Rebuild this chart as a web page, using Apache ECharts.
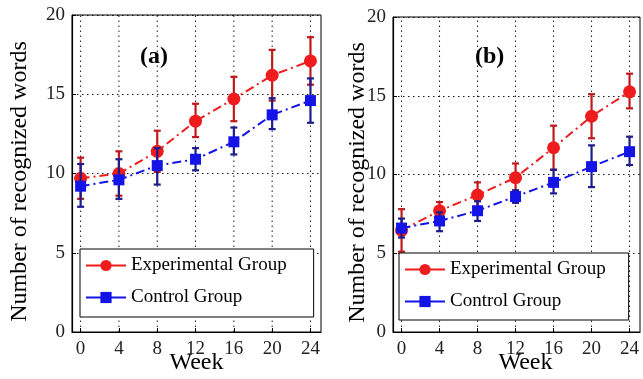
<!DOCTYPE html>
<html>
<head>
<meta charset="utf-8">
<script src="https://cdn.jsdelivr.net/npm/echarts@6/dist/echarts.min.js"></script>
<style>html,body{margin:0;padding:0;background:#fff}#c{width:643px;height:379px}</style>
</head>
<body>
<div id="c"></div>
<script>
// ---- data ----
const weeks = [0, 4, 8, 12, 16, 20, 24];
const xTicks = [0, 4, 8, 12, 16, 20, 24];
const panelLabels = ['(a)', '(b)'];
const seriesNames = ['Experimental Group', 'Control Group'];

// Panel (a)
const expA_mean  = [9.7, 10.0, 11.4, 13.3, 14.7, 16.2, 17.1];
const expA_upper = [11.0, 11.4, 12.7, 14.4, 16.1, 17.8, 18.6];
const expA_lower = [8.4, 8.6, 10.1, 12.3, 13.3, 14.6, 15.6];
const ctrlA_mean  = [9.2, 9.6, 10.5, 10.9, 12.0, 13.7, 14.6];
const ctrlA_upper = [10.6, 10.9, 11.6, 11.6, 12.9, 14.75, 16.0];
const ctrlA_lower = [7.9, 8.4, 9.3, 10.2, 11.2, 12.8, 13.2];

// Panel (b)
const expB_mean  = [6.45, 7.7, 8.7, 9.8, 11.7, 13.7, 15.25];
const expB_upper = [7.8, 8.25, 9.5, 10.7, 13.1, 15.1, 16.4];
const expB_lower = [5.1, 7.1, 7.9, 8.9, 10.3, 12.3, 14.2];
const ctrlB_mean  = [6.6, 7.05, 7.7, 8.6, 9.5, 10.5, 11.45];
const ctrlB_upper = [7.2, 7.6, 8.3, 9.0, 10.3, 11.85, 12.4];
const ctrlB_lower = [6.0, 6.4, 7.05, 8.2, 8.8, 9.2, 10.6];

// ---- styling ----
const FONT = 'Liberation Serif';
const RED = '#ee1c1c', RED_BAR = '#c0191c';
const BLUE = '#1414e6', BLUE_BAR = '#1c1c8c';
const DOT = [1.5, 3.5];

const grids = [
  { left: 72, top: 15, width: 249, height: 317 },
  { left: 393, top: 17, width: 247, height: 315 }
];
const yNameGaps = [40, 23];

function pairs(xs, ys) { return xs.map((x, i) => [x, ys[i]]); }
function barData(xs, lo, hi) { return xs.map((x, i) => [x, lo[i], hi[i]]); }

function gridLineSeries(idx) {
  return {
    type: 'custom', xAxisIndex: idx, yAxisIndex: idx, z: 1, silent: true,
    data: xTicks.map(v => [v]),
    renderItem: function (params, api) {
      const x = api.value(0);
      const a = api.coord([x, 0]);
      const b = api.coord([x, 20]);
      return { type: 'line', shape: { x1: a[0], y1: a[1], x2: b[0], y2: b[1] },
               style: { stroke: '#000', lineWidth: 1, lineDash: DOT, opacity: 0.9 } };
    }
  };
}

function errorSeries(idx, data, color, z) {
  return {
    type: 'custom', xAxisIndex: idx, yAxisIndex: idx, z: z, silent: true,
    data: data,
    renderItem: function (params, api) {
      const x = api.value(0);
      const lo = api.coord([x, api.value(1)]);
      const hi = api.coord([x, api.value(2)]);
      const cap = 3.5;
      const st = { stroke: color, lineWidth: 2.2 };
      return {
        type: 'group',
        children: [
          { type: 'line', shape: { x1: lo[0], y1: lo[1], x2: hi[0], y2: hi[1] }, style: st },
          { type: 'line', shape: { x1: hi[0] - cap, y1: hi[1], x2: hi[0] + cap, y2: hi[1] }, style: st },
          { type: 'line', shape: { x1: lo[0] - cap, y1: lo[1], x2: lo[0] + cap, y2: lo[1] }, style: st }
        ]
      };
    }
  };
}

function lineSeries(idx, name, data, color, symbol, size, z) {
  return {
    type: 'line', name: name, xAxisIndex: idx, yAxisIndex: idx, z: z,
    data: data, symbol: symbol, symbolSize: size, showSymbol: true,
    itemStyle: { color: color, borderWidth: 0 },
    lineStyle: { color: color, width: 2, type: [9, 4, 2, 4] },
    silent: true
  };
}

const panels = [
  { exp: [expA_mean, expA_lower, expA_upper], ctrl: [ctrlA_mean, ctrlA_lower, ctrlA_upper] },
  { exp: [expB_mean, expB_lower, expB_upper], ctrl: [ctrlB_mean, ctrlB_lower, ctrlB_upper] }
];

const series = [];
panels.forEach((p, i) => {
  series.push(gridLineSeries(i));
  series.push(errorSeries(i, barData(weeks, p.exp[1], p.exp[2]), RED_BAR, 3));
  series.push(lineSeries(i, seriesNames[0], pairs(weeks, p.exp[0]), RED, 'circle', 13, 4));
  series.push(errorSeries(i, barData(weeks, p.ctrl[1], p.ctrl[2]), BLUE_BAR, 5));
  series.push(lineSeries(i, seriesNames[1], pairs(weeks, p.ctrl[0]), BLUE, 'rect', 11, 6));
});

const xAxes = grids.map((g, i) => ({
  gridIndex: i, type: 'value', min: -0.9, max: 25.1,
  axisLine: { onZero: false, lineStyle: { color: '#000', width: 1.2 } },
  axisTick: { inside: true, length: 4, customValues: xTicks, lineStyle: { color: '#000' } },
  axisLabel: { customValues: xTicks, color: '#222', fontFamily: FONT, fontSize: 19, margin: 8 },
  splitLine: { show: false },
  name: 'Week', nameLocation: 'middle', nameGap: 19, nameMoveOverlap: false,
  nameTextStyle: { color: '#000', fontFamily: FONT, fontSize: 24, padding: i === 1 ? [0, 0, 0, 18] : 0 }
}));

const yAxes = grids.map((g, i) => ({
  gridIndex: i, type: 'value', min: 0, max: 20, interval: 5,
  axisLine: { onZero: false, lineStyle: { color: '#000', width: 1.2 } },
  axisTick: { inside: true, length: 4, lineStyle: { color: '#000' } },
  axisLabel: { color: '#222', fontFamily: FONT, fontSize: 19, margin: 7 },
  splitLine: { show: true, lineStyle: { color: '#000', width: 1, type: DOT, opacity: 0.9 } },
  name: 'Number of recognized words', nameLocation: 'middle', nameGap: yNameGaps[i], nameMoveOverlap: false,
  nameTextStyle: { color: '#000', fontFamily: FONT, fontSize: 24, padding: [0, 16, 0, 0] }
}));

const legendPos = [
  { left: 80, top: 249 },
  { left: 399, top: 253 }
];
const legendPad = [
  [7, 27, 10, 5],
  [7, 23, 9, 5]
];

const legends = legendPos.map((pos, i) => ({
  left: pos.left, top: pos.top, orient: 'vertical',
  data: seriesNames,
  backgroundColor: '#fff', borderColor: '#000', borderWidth: 1, borderRadius: 0,
  padding: legendPad[i], itemGap: 13, itemWidth: 40, itemHeight: 14,
  selectedMode: false,
  lineStyle: { type: 'solid', width: 2 },
  textStyle: { color: '#000', fontFamily: FONT, fontSize: 19 }
}));

const option = {
  animation: false,
  backgroundColor: '#fff',
  grid: grids.map(g => Object.assign({ show: true, borderColor: '#000', borderWidth: 1,
    backgroundColor: 'transparent', containLabel: false, outerBoundsMode: 'none' }, g)),
  xAxis: xAxes,
  yAxis: yAxes,
  legend: legends,
  graphic: [
    { type: 'text', left: 140, top: 45, style: { text: panelLabels[0], font: 'bold 24px "Liberation Serif"', fill: '#000' } },
    { type: 'text', left: 475, top: 45, style: { text: panelLabels[1], font: 'bold 24px "Liberation Serif"', fill: '#000' } }
  ],
  series: series
};

const chart = echarts.init(document.getElementById('c'), null, { renderer: 'canvas' });
chart.setOption(option);
</script>
</body>
</html>
